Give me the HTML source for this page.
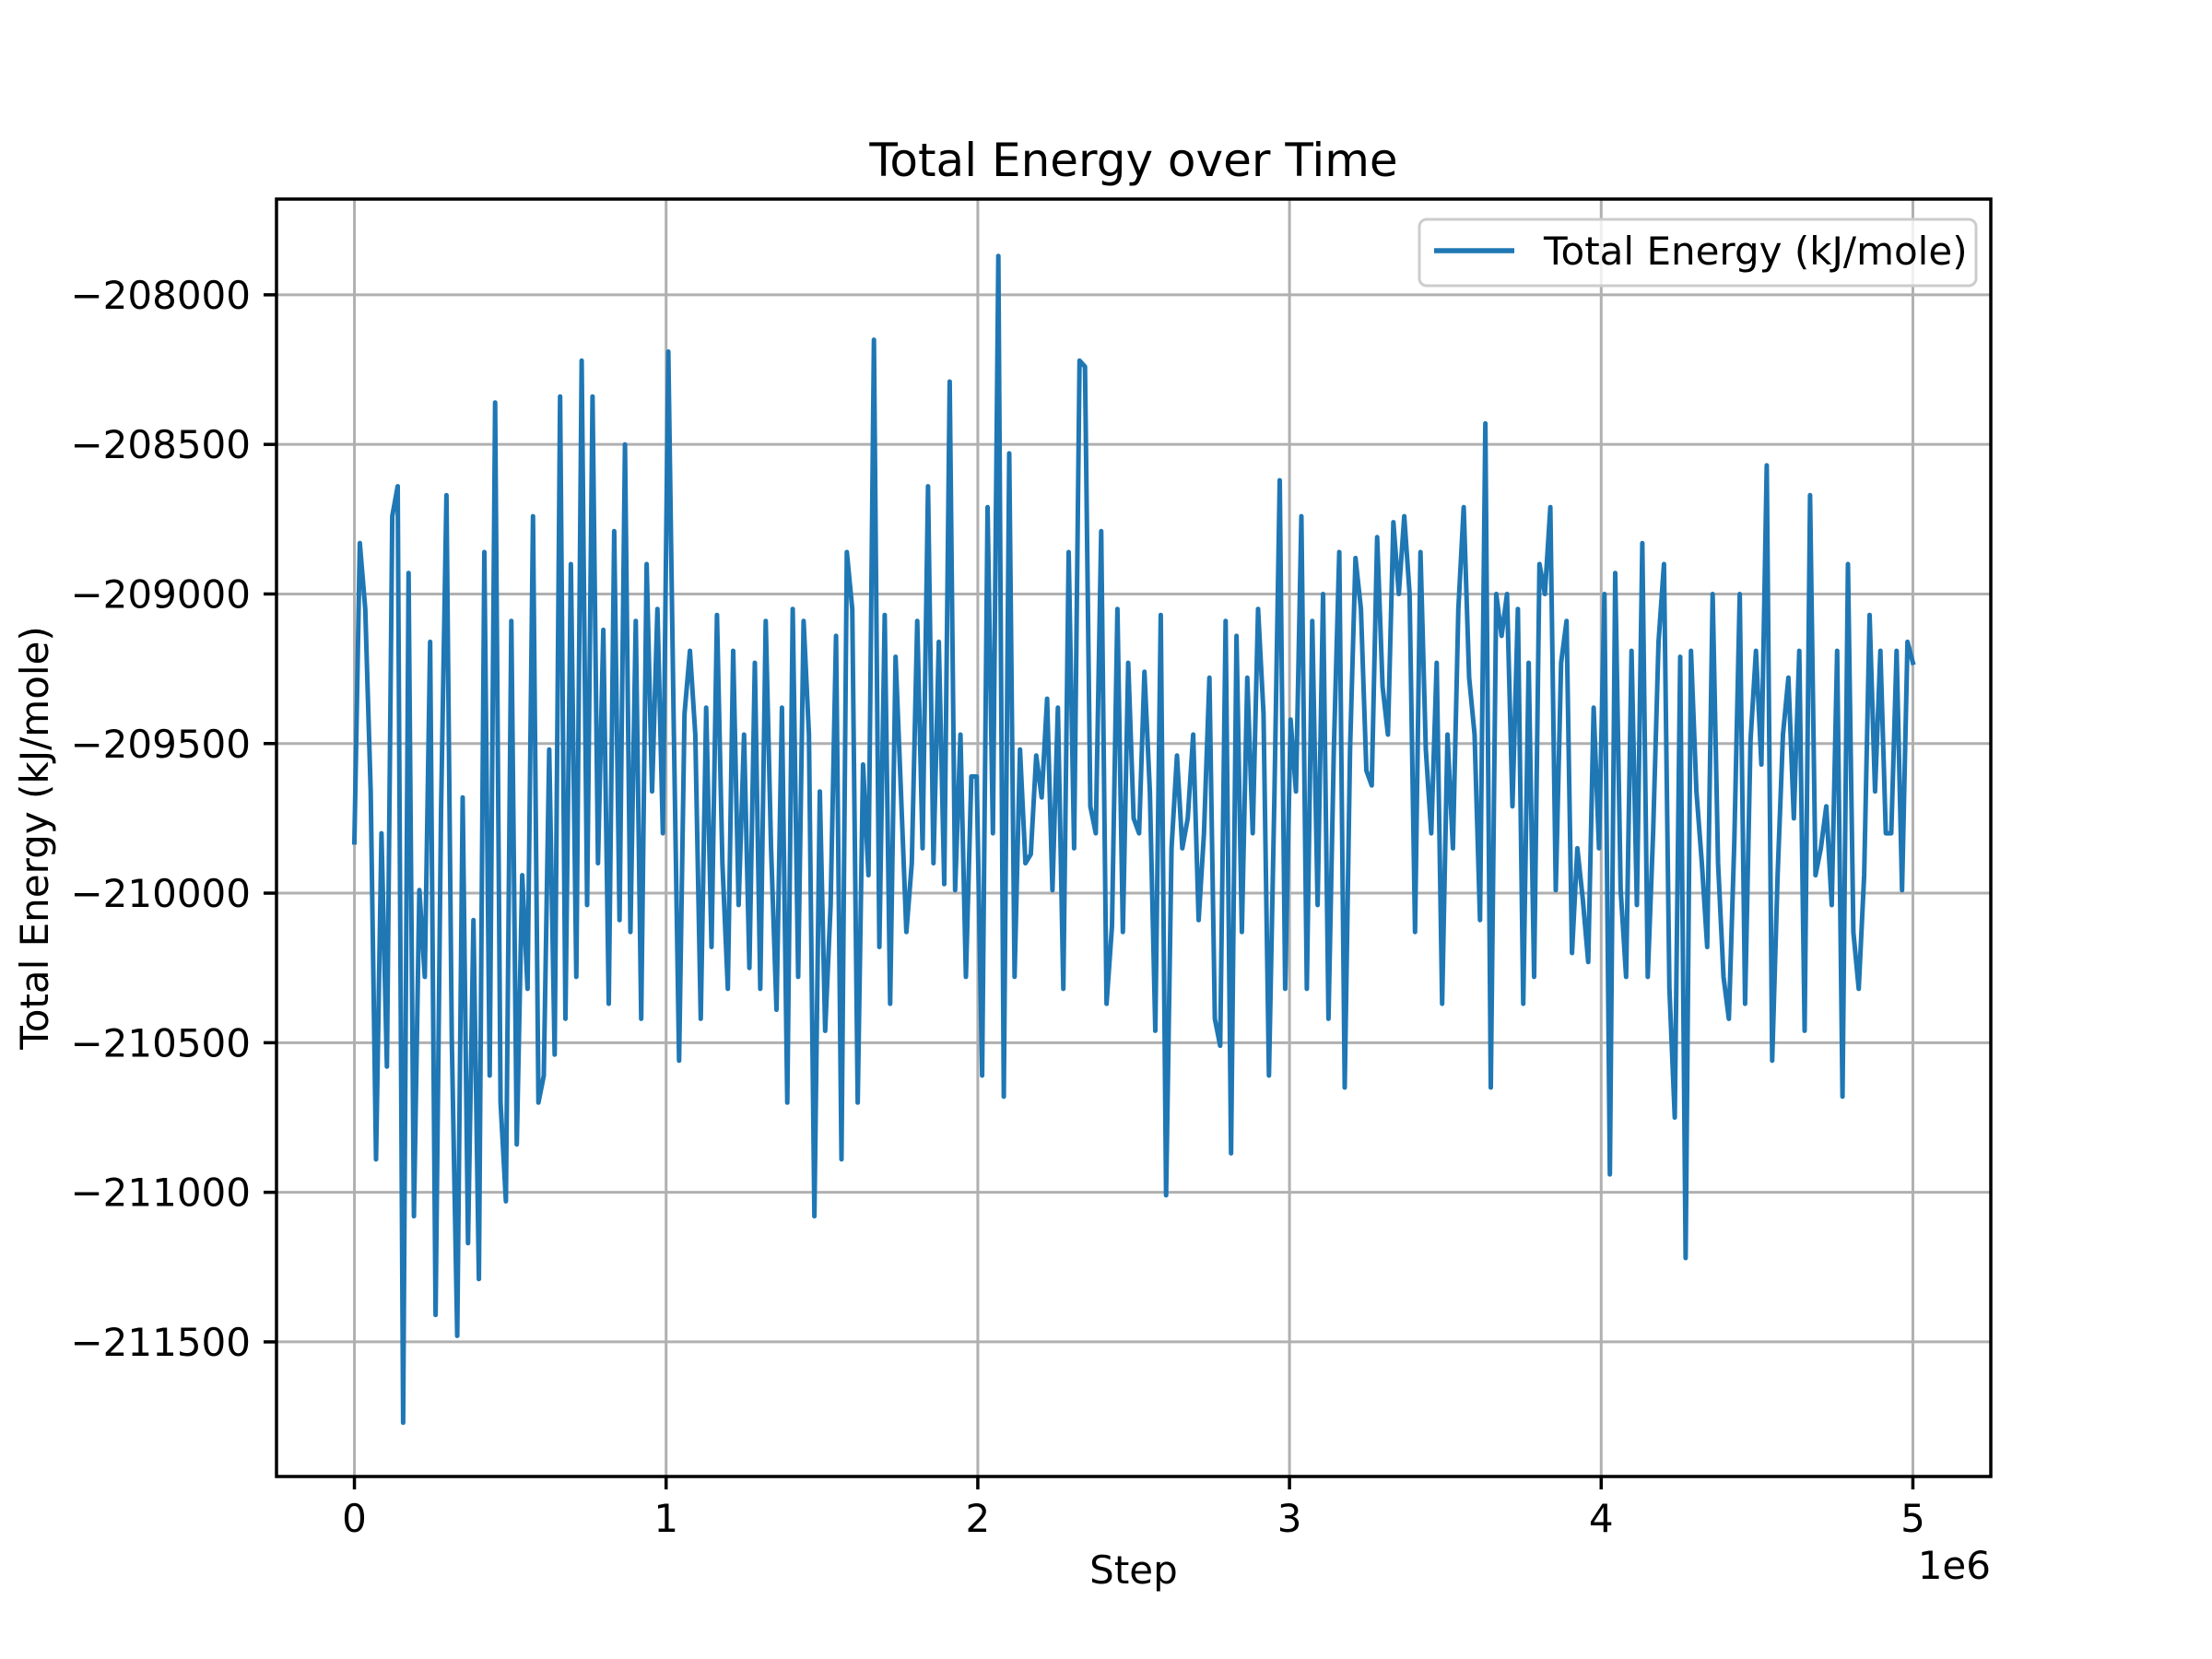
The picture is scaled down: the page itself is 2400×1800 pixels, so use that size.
<!DOCTYPE html>
<html><head><meta charset="utf-8"><style>
html,body{margin:0;padding:0;background:#fff;}
svg{display:block;font-family:"DejaVu Sans","Liberation Sans",sans-serif;}
</style></head><body>
<svg id="chart" width="2400" height="1800" viewBox="0 0 2400 1800" xmlns="http://www.w3.org/2000/svg">
<rect x="0" y="0" width="2400" height="1800" fill="#fff"/>
<text x="1230" y="191" font-size="50" text-anchor="middle">Total Energy over Time</text>
<g id="grid"></g>
<g id="series"></g>
<rect x="300" y="216" width="1860" height="1386" fill="none" stroke="#000" stroke-width="3.5"/>
<g id="ticks"></g>
<text x="1230" y="1718" font-size="42" text-anchor="middle">Step</text>
<text x="2160" y="1713" font-size="42" text-anchor="end">1e6</text>
<text transform="translate(52,909) rotate(-90)" font-size="42" text-anchor="middle">Total Energy (kJ/mole)</text>
<g>
<rect x="1540" y="238" width="604" height="72" rx="8" fill="#fff" fill-opacity="0.8" stroke="#ccc" stroke-width="3"/>
<line x1="1556" y1="272" x2="1643" y2="272" stroke="#1f77b4" stroke-width="5.5"/>
<text x="1675" y="287" font-size="42">Total Energy (kJ/mole)</text>
</g>
</svg>
<script>
const xTicks = [0, 1, 2, 3, 4, 5];
const xTickLabels = ["0", "1", "2", "3", "4", "5"];
const yTicks = [-208000, -208500, -209000, -209500, -210000, -210500, -211000, -211500];
const yTickLabels = ["\u2212208000", "\u2212208500", "\u2212209000", "\u2212209500", "\u2212210000", "\u2212210500", "\u2212211000", "\u2212211500"];
const stepFirst = 0;
const stepLast = 5000000;
const energy = [
-209830,-208830,-209050,-209660,-210890,-209800,-210580,-208740,-208640,-211770,
-208930,-211080,-209990,-210280,-209160,-211410,-209730,-208670,-210490,-211480,
-209680,-211170,-210090,-211290,-208860,-210610,-208360,-210700,-211030,-209090,
-210840,-209940,-210320,-208740,-210700,-210610,-209520,-210540,-208340,-210420,
-208900,-210280,-208220,-210040,-208340,-209900,-209120,-210370,-208790,-210090,
-208500,-210130,-209090,-210420,-208900,-209660,-209050,-209800,-208190,-209420,
-210560,-209400,-209190,-209470,-210420,-209380,-210180,-209070,-209900,-210320,
-209190,-210040,-209470,-210250,-209230,-210320,-209090,-209850,-210390,-209380,
-210700,-209050,-210280,-209090,-209470,-211080,-209660,-210460,-210040,-209140,
-210890,-208860,-209050,-210700,-209570,-209940,-208150,-210180,-209070,-210370,
-209210,-209660,-210130,-209900,-209090,-209850,-208640,-209900,-209160,-209970,
-208290,-209990,-209470,-210280,-209610,-209610,-210610,-208710,-209800,-207870,
-210680,-208530,-210280,-209520,-209900,-209870,-209540,-209680,-209350,-209990,
-209380,-210320,-208860,-209850,-208220,-208240,-209710,-209800,-208790,-210370,
-210110,-209050,-210130,-209230,-209750,-209800,-209260,-209660,-210460,-209070,
-211010,-209850,-209540,-209850,-209750,-209470,-210090,-209800,-209280,-210420,
-210510,-209090,-210870,-209140,-210130,-209280,-209800,-209050,-209400,-210610,
-209680,-208620,-210320,-209420,-209660,-208740,-210320,-209090,-210040,-209000,
-210420,-209520,-208860,-210650,-209520,-208880,-209050,-209590,-209640,-208810,
-209310,-209470,-208760,-209000,-208740,-209000,-210130,-208860,-209520,-209800,
-209230,-210370,-209470,-209850,-209050,-208710,-209280,-209470,-210090,-208430,
-210650,-209000,-209140,-209000,-209710,-209050,-210370,-209230,-210280,-208900,
-209000,-208710,-209990,-209230,-209090,-210200,-209850,-210020,-210230,-209380,
-209850,-209000,-210940,-208930,-209990,-210280,-209190,-210040,-208830,-210280,
-209800,-209160,-208900,-210320,-210750,-209210,-211220,-209190,-209660,-209900,
-210180,-209000,-209900,-210280,-210420,-209830,-209000,-210370,-209490,-209190,
-209570,-208570,-210560,-209940,-209470,-209280,-209750,-209190,-210460,-208670,
-209940,-209850,-209710,-210040,-209190,-210680,-208900,-210130,-210320,-209940,
-209070,-209660,-209190,-209800,-209800,-209190,-209990,-209160,-209230
];

const AX = {left: 300, right: 2160, top: 216, bottom: 1602};
const XMIN = -0.25e6, XMAX = 5.25e6, YMIN = -211950, YMAX = -207680;
function xScale(v){ return AX.left + (v - XMIN) / (XMAX - XMIN) * (AX.right - AX.left); }
function yScale(v){ return AX.bottom - (v - YMIN) / (YMAX - YMIN) * (AX.bottom - AX.top); }
const NS = "http://www.w3.org/2000/svg";
const grid = document.getElementById("grid");
const ticks = document.getElementById("ticks");
const series = document.getElementById("series");
function mk(tag, attrs, parent){ const e = document.createElementNS(NS, tag); for (const k in attrs) e.setAttribute(k, attrs[k]); parent.appendChild(e); return e; }

xTicks.forEach((t, i) => {
  const x = xScale(t * 1e6);
  const g = mk("line", {x1: x, x2: x, y1: AX.top, y2: AX.bottom, stroke: "#b0b0b0", "stroke-width": 3}, grid);
  
  
  const tk = mk("line", {x1: x, x2: x, y1: AX.bottom, y2: AX.bottom + 14, stroke: "#000", "stroke-width": 3.5}, ticks);
  
  
  const tl = mk("text", {x: x, y: 1662, "font-size": 42, "text-anchor": "middle"}, ticks);
  tl.textContent = xTickLabels[i];
  
  
});
yTicks.forEach((t, i) => {
  const y = yScale(t);
  const g = mk("line", {x1: AX.left, x2: AX.right, y1: y, y2: y, stroke: "#b0b0b0", "stroke-width": 3}, grid);
  
  
  const tk = mk("line", {x1: AX.left - 14, x2: AX.left, y1: y, y2: y, stroke: "#000", "stroke-width": 3.5}, ticks);
  
  
  const tl = mk("text", {x: 272, y: y + 15, "font-size": 42, "text-anchor": "end"}, ticks);
  tl.textContent = yTickLabels[i];
  
  
});
const n = energy.length;
const pts = energy.map((v, i) => {
  const step = stepFirst + (stepLast - stepFirst) * i / (n - 1);
  return xScale(step).toFixed(1) + "," + yScale(v).toFixed(1);
}).join(" ");
const line = mk("polyline", {points: pts, fill: "none", stroke: "#1f77b4", "stroke-width": 5, "stroke-linejoin": "round", "stroke-linecap": "square"}, series);


</script>
</body></html>
